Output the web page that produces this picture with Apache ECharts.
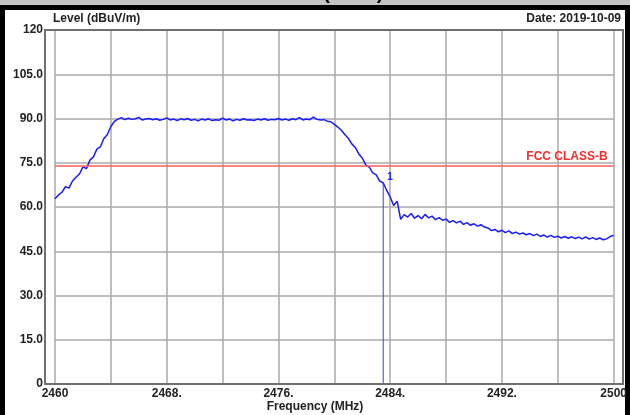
<!DOCTYPE html>
<html>
<head>
<meta charset="utf-8">
<script src="https://cdn.jsdelivr.net/npm/echarts@6/dist/echarts.min.js"></script>
<style>
  html, body { margin: 0; padding: 0; background: #000; }
  #main { width: 630px; height: 415px; }
</style>
</head>
<body>
<div id="main"></div>
<script>
// sweep settings (MHz)
const startFreq = 2460;
const stepMHz = 0.25;

// measured level, dBuV/m, one value per 0.25 MHz from 2460 to 2500
const levels = [
    // 2460 - 2464.25 rising edge
    62.8, 64.1, 65.0, 66.9, 66.4, 68.8, 70.1, 71.2, 73.6, 73.0, 75.9, 77.0, 79.6, 80.4, 83.2, 84.6, 87.3, 89.0,
    // 2464.5 - 2479.75 flat top
    89.8, 90.3, 89.6, 90.1, 89.7, 89.9, 90.4, 89.5, 89.8, 90.0,
    89.6, 89.9, 89.4, 89.7, 90.2, 89.5, 89.8, 89.3, 89.9, 89.6,
    90.0, 89.4, 89.7, 89.2, 89.8, 89.5, 89.9, 89.3, 89.6, 89.4,
    90.1, 89.5, 89.8, 89.2, 89.7, 89.4, 89.9, 89.5, 89.6, 89.3,
    89.8, 89.5, 89.9, 89.4, 89.7, 89.6, 90.0, 89.5, 89.8, 89.4,
    89.9, 89.6, 90.3, 89.5, 89.8, 89.6, 90.5, 89.7, 89.5, 89.6,
    89.1, 88.9,
    // 2480 - 2484.75 falling edge
    88.0, 87.1, 86.0, 84.6, 83.3, 81.4, 80.2, 78.0, 76.6, 74.3,
    73.5, 71.6, 70.9, 68.8, 68.2, 65.6, 63.4, 60.5, 62.0, 55.8,
    // 2485 - 2500 out of band
    57.4, 56.6, 57.8, 56.2, 57.1, 56.0, 57.5, 56.3, 56.9, 55.7, 56.4, 55.5,
    55.9, 54.8, 55.4, 54.6, 55.2, 54.1, 54.7, 53.8, 54.3, 53.5, 54.0, 53.2,
    52.9, 52.0, 52.4, 51.6, 52.1, 51.3, 51.9, 51.0, 51.5, 50.8, 51.2, 50.6,
    51.0, 50.3, 50.8, 50.0, 50.5, 49.8, 50.4, 49.7, 50.1, 49.5, 50.0, 49.4,
    49.9, 49.3, 49.8, 49.2, 49.9, 49.1, 49.6, 49.0, 49.5, 48.9, 49.2, 50.0,
    50.4
];

const limitLevel = 74;
const limitName = 'FCC CLASS-B';
const markerFreq = 2483.5;
const markerLevel = 68.2;
const markerName = '1';

const xMin = 2460, xMax = 2500, xStep = 4;
const yMin = 0, yMax = 120, yStep = 15;
const xLabelled = [2460, 2468, 2476, 2484, 2492, 2500];

const font = '"Liberation Sans Narrow", "Liberation Sans", Arial, sans-serif';

let trace = levels.map((v, i) => [startFreq + i * stepMHz, v]);

let myChart = echarts.init(document.getElementById('main'));
myChart.setOption({
    backgroundColor: '#000',
    animation: false,
    grid: { left: 55, right: 16, top: 30, bottom: 31 },
    xAxis: {
        type: 'value',
        min: xMin,
        max: xMax,
        interval: xStep,
        axisLine: { show: false },
        axisTick: { show: false },
        splitLine: { lineStyle: { color: '#aaaaaa', width: 1.5 } },
        axisLabel: {
            margin: 4,
            color: '#222',
            fontFamily: font,
            fontWeight: 'bold',
            fontSize: 12,
            showMinLabel: true,
            showMaxLabel: true,
            formatter: (v) => {
                if (xLabelled.indexOf(v) < 0) return '';
                if (v === xMin || v === xMax) return String(v);
                return v + '.';
            }
        }
    },
    yAxis: {
        type: 'value',
        min: yMin,
        max: yMax,
        interval: yStep,
        axisLine: { show: false },
        axisTick: { show: false },
        splitLine: { lineStyle: { color: '#aaaaaa', width: 1.5 } },
        axisLabel: {
            margin: 12,
            color: '#222',
            fontFamily: font,
            fontWeight: 'bold',
            fontSize: 12,
            formatter: (v) => (v === yMin || v === yMax) ? String(v) : v.toFixed(1)
        }
    },
    graphic: [
        { type: 'rect', z: -10, shape: { x: 5, y: 10, width: 620, height: 405 }, style: { fill: '#fff' } },
        { type: 'rect', z: -10, shape: { x: 0, y: 0, width: 630, height: 5 }, style: { fill: '#c4c4c4' } },
        { type: 'text', z: -9, left: 'center', top: -17, style: { text: 'Vertical (Peak)', fill: '#000', font: 'bold 20px ' + font } },
        { type: 'rect', z: -8, shape: { x: 0, y: 5, width: 630, height: 5 }, style: { fill: '#000' } },
        { type: 'rect', z: 10, shape: { x: 45, y: 30, width: 578, height: 354 }, style: { fill: 'none', stroke: '#707070', lineWidth: 2 } },
        { type: 'text', z: 10, left: 53, top: 13, style: { text: 'Level (dBuV/m)', fill: '#222', font: 'bold 12px ' + font } },
        { type: 'text', z: 10, right: 9, top: 13, style: { text: 'Date: 2019-10-09', fill: '#222', font: 'bold 12px ' + font } },
        { type: 'text', z: 10, left: 'center', top: 401, style: { text: 'Frequency (MHz)', fill: '#222', font: 'bold 12px ' + font } }
    ],
    series: [
        {
            name: 'Level',
            type: 'line',
            data: trace,
            symbol: 'none',
            lineStyle: { color: '#1a1aff', width: 1.5 },
            z: 4,
            markLine: {
                silent: true,
                symbol: 'none',
                lineStyle: { color: '#ff5a5a', width: 1.5, type: 'solid' },
                label: {
                    position: 'insideEndTop',
                    formatter: limitName,
                    color: '#ff2a2a',
                    fontFamily: font,
                    fontWeight: 'bold',
                    fontSize: 12,
                    distance: [6, 3]
                },
                data: [{ yAxis: limitLevel }]
            }
        },
        {
            name: 'Marker',
            type: 'line',
            data: [[markerFreq, yMin], [markerFreq, markerLevel]],
            symbol: 'none',
            lineStyle: { color: '#3a3aff', width: 1 },
            z: 3,
            endLabel: {
                show: true,
                formatter: markerName,
                color: '#2020ff',
                fontFamily: font,
                fontWeight: 'bold',
                fontSize: 10,
                offset: [-4, -6]
            }
        }
    ]
});
</script>
</body>
</html>
